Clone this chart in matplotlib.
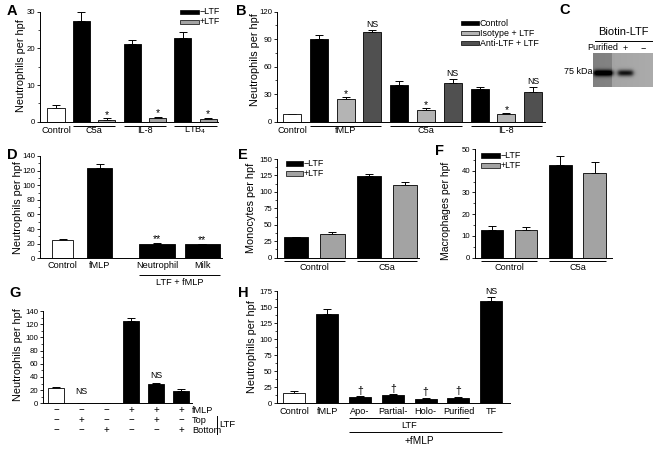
import matplotlib
matplotlib.use('Agg')
import matplotlib.pyplot as plt
import numpy as np
from matplotlib.patches import Rectangle
from matplotlib.ticker import MultipleLocator
import matplotlib.transforms as mtransforms

plt.rcParams['font.family'] = ['Liberation Sans', 'DejaVu Sans']

# ---------------- data ----------------
A_groups = ['C5a', 'IL-8', 'LTB$_4$']
A_control = [3.8]
A_control_err = [0.8]
A_minus = [27.5, 21.3, 22.8]
A_minus_err = [2.4, 1.0, 1.6]
A_plus = [0.6, 0.9, 0.7]
A_plus_err = [0.3, 0.5, 0.4]

B_groups = ['fMLP', 'C5a', 'IL-8']
B_control = [8.0]
B_control_err = [0.7]
B_ctrl = [90.2, 40.0, 35.3]
B_ctrl_err = [4.3, 4.2, 2.3]
B_iso = [25.0, 12.7, 8.0]
B_iso_err = [1.6, 1.9, 1.0]
B_anti = [97.5, 42.5, 32.7]
B_anti_err = [2.5, 4.0, 4.8]

D_labels = ['Control', 'fMLP', 'Neutrophil', 'Milk']
D_vals = [25.0, 123.0, 20.0, 19.0]
D_err = [1.2, 5.5, 0.8, 1.2]

E_groups = ['Control', 'C5a']
E_minus = [31.0, 124.6]
E_minus_err = [1.2, 2.5]
E_plus = [36.2, 110.5]
E_plus_err = [2.5, 4.2]

F_groups = ['Control', 'C5a']
F_minus = [12.8, 42.5]
F_minus_err = [1.8, 4.4]
F_plus = [12.6, 38.9]
F_plus_err = [1.7, 5.0]

G_vals = [22.7, 0.8, 0.5, 124.5, 29.3, 19.2]
G_err = [2.2, 0.2, 0.2, 4.5, 1.8, 2.4]
G_fmlp = ['\u2212', '\u2212', '\u2212', '+', '+', '+']
G_top = ['\u2212', '+', '\u2212', '\u2212', '+', '\u2212']
G_bottom = ['\u2212', '\u2212', '+', '\u2212', '\u2212', '+']

H_labels = ['Control', 'fMLP', 'Apo-', 'Partial-', 'Holo-', 'Purified', 'TF']
H_vals = [16.6, 138.7, 9.8, 12.4, 7.2, 8.7, 159.4]
H_err = [2.0, 7.5, 1.2, 1.5, 0.8, 1.3, 5.5]

C_lanes = ['Purified', '+', '\u2212']
C_band = [1.0, 0.85, 0.0]

# ---------------- styles ----------------
WHITE, BLACK, GRAY = '#ffffff', '#000000', '#a3a3a3'
ISO, ANTI = '#b4b4b4', '#505050'
TICK_FS, LAB_FS, YL_FS = 5.6, 6.6, 7.8

W, Hh = 664, 450
fig = plt.figure(figsize=(6.64, 4.5), dpi=100)
ov = fig.add_axes([0, 0, 1, 1], zorder=5)
ov.set_xlim(0, W)
ov.set_ylim(Hh, 0)
ov.axis('off')
ov.patch.set_alpha(0)


def add_ax(l, t, r, b):
    ax = fig.add_axes([l / W, 1 - b / Hh, (r - l) / W, (b - t) / Hh])
    ax.patch.set_alpha(0)
    for s in ['top', 'right']:
        ax.spines[s].set_visible(False)
    for s in ['left', 'bottom']:
        ax.spines[s].set_linewidth(0.7)
    ax.set_xticks([])
    ax.tick_params(axis='y', direction='out', length=2.5, width=0.6,
                   labelsize=TICK_FS, pad=1.0)
    ax.tick_params(axis='y', which='minor', direction='out', length=1.6, width=0.5)
    return ax


def bt(ax):
    # x in data coordinates, y in figure pixels (top-down)
    return mtransforms.blended_transform_factory(ax.transData, ov.transData)


def bars(ax, x, vals, errs, color, width):
    ax.errorbar(x, vals, yerr=[np.zeros(len(vals)), errs], fmt='none',
                ecolor='black', elinewidth=0.7, capsize=3.2, capthick=0.7, zorder=1)
    ax.bar(x, vals, width, color=color, edgecolor='black', linewidth=0.6, zorder=2)


def mark(ax, x, vals, errs, txt, fs=6.5, dy=1.0):
    for xi, v, e in zip(x, vals, errs):
        ax.annotate(txt, (xi, v + e), xytext=(0, dy), textcoords='offset points',
                    ha='center', va='bottom', fontsize=fs)


def hline(ax, x0, x1, ypx, lw=0.7):
    ax.plot([x0, x1], [ypx, ypx], transform=bt(ax), color='black', lw=lw,
            clip_on=False, solid_capstyle='butt')


def label(ax, x, ypx, txt, fs=LAB_FS):
    ax.text(x, ypx, txt, transform=bt(ax), ha='center', va='center', fontsize=fs)


def ylab(ax, txt, xpx, ycpx, fs=YL_FS):
    ov.text(xpx, ycpx, txt, rotation=90, ha='center', va='center', fontsize=fs)


def legend(x, y, dy, colors, labels, w=18, h=5):
    for i, (c, l) in enumerate(zip(colors, labels)):
        ov.add_patch(Rectangle((x, y + i * dy - h / 2), w, h, fc=c, ec='black', lw=0.5))
        ov.text(x + w + 1, y + i * dy, l, ha='left', va='center', fontsize=6.4)


def letter(x, y, t):
    ov.text(x, y, t, fontsize=10.5, fontweight='bold', ha='center', va='center')

# ---------------- Panel A ----------------
axA = add_ax(40, 11.7, 218, 121.7)
wA = 0.67
xc = np.array([0])
xm = np.array([1, 3, 5])
xp = xm + 1
bars(axA, xc, A_control, A_control_err, WHITE, wA)
bars(axA, xm, A_minus, A_minus_err, BLACK, wA)
bars(axA, xp, A_plus, A_plus_err, GRAY, wA)
mark(axA, xp, A_plus, A_plus_err, '*', fs=7.5, dy=-1)
axA.set_xlim(-0.63, 6.38)
axA.set_ylim(0, 30)
axA.yaxis.set_major_locator(MultipleLocator(10))
axA.yaxis.set_minor_locator(MultipleLocator(5))
label(axA, 0, 130.5, 'Control')
for a, b, g in zip(xm, xp, A_groups):
    hline(axA, a - wA / 2, b + wA / 2, 125.5)
    label(axA, (a + b) / 2, 130.5, g)
ylab(axA, 'Neutrophils per hpf', 21, 66)
legend(180, 12, 10, [BLACK, GRAY], ['\u2212LTF', '+LTF'], w=19, h=4.5)
letter(12, 11, 'A')

# ---------------- Panel B ----------------
axB = add_ax(277, 11.7, 545, 121.7)
wB = 0.67
gx = np.array([1, 4, 7])
bars(axB, [0], B_control, B_control_err, WHITE, wB)
bars(axB, gx, B_ctrl, B_ctrl_err, BLACK, wB)
bars(axB, gx + 1, B_iso, B_iso_err, ISO, wB)
bars(axB, gx + 2, B_anti, B_anti_err, ANTI, wB)
mark(axB, gx + 1, B_iso, B_iso_err, '*', fs=7.5, dy=-1)
mark(axB, gx + 2, B_anti, B_anti_err, 'NS', fs=6.3, dy=1)
axB.set_xlim(-0.56, 9.44)
axB.set_ylim(0, 120)
axB.yaxis.set_major_locator(MultipleLocator(30))
axB.yaxis.set_minor_locator(MultipleLocator(15))
label(axB, 0, 130.5, 'Control')
for a, g in zip(gx, B_groups):
    hline(axB, a - wB / 2, a + 2 + wB / 2, 125.5)
    label(axB, a + 1, 130.5, g)
ylab(axB, 'Neutrophils per hpf', 255, 60)
legend(461, 23, 10, [BLACK, ISO, ANTI], ['Control', 'Isotype + LTF', 'Anti-LTF + LTF'], w=18, h=4.5)
letter(241, 11, 'B')

# ---------------- Panel C (blot) ----------------
letter(565, 10, 'C')
axC = fig.add_axes([593 / W, 1 - 87 / Hh, 60 / W, 34 / Hh])
ny, nx = 34, 60
yy, xx = np.mgrid[0:ny, 0:nx]
img = np.where(xx < 19, 0.50, 0.63) + 0.04 * (xx / nx)
lane_c = [10, 32, 50]
lane_w = [9.5, 7.5, 7.0]
for cx, hw, inten in zip(lane_c, lane_w, C_band):
    band = inten * np.exp(-((yy - 19.5) / 3.2) ** 2) * \
        (1 / (1 + np.exp((np.abs(xx - cx) - hw) / 1.2)))
    img = img - 0.7 * band
img = np.clip(img, 0, 1)
axC.imshow(img, cmap='gray', vmin=0, vmax=1, aspect='auto', interpolation='bilinear')
axC.set_xticks([])
axC.set_yticks([])
for s in axC.spines.values():
    s.set_visible(False)
ov.text(623, 32, 'Biotin-LTF', ha='center', va='center', fontsize=8)
ov.plot([595, 652], [40.5, 40.5], color='black', lw=0.7)
for cx, t in zip(lane_c, C_lanes):
    ov.text(593 + cx, 48, t, ha='center', va='center', fontsize=6.5)
ov.text(592, 71.5, '75 kDa', ha='right', va='center', fontsize=6.5)

# ---------------- Panel D ----------------
axD = add_ax(40, 156, 222, 258.3)
D_pos = np.array([0, 1, 2.55, 3.78])
D_w = np.array([0.57, 0.68, 0.97, 0.95])
D_col = [WHITE, BLACK, BLACK, BLACK]
for xi, v, e, c, w in zip(D_pos, D_vals, D_err, D_col, D_w):
    bars(axD, [xi], [v], [e], c, w)
mark(axD, D_pos[2:], D_vals[2:], D_err[2:], '**', fs=7.5, dy=-1)
axD.set_xlim(-0.61, 4.31)
axD.set_ylim(0, 140)
axD.yaxis.set_major_locator(MultipleLocator(20))
axD.yaxis.set_minor_locator(MultipleLocator(10))
for xi, t in zip(D_pos, D_labels):
    label(axD, xi, 265, t)
hline(axD, D_pos[2] - D_w[2] / 2, D_pos[3] + D_w[3] / 2, 274.5)
label(axD, (D_pos[2] + D_pos[3]) / 2, 282.5, 'LTF + fMLP')
ylab(axD, 'Neutrophils per hpf', 18, 208)
letter(12, 155, 'D')

# ---------------- Panel E ----------------
axE = add_ax(277, 159, 419, 257.7)
wE = 0.67
ex = np.array([0, 2])
bars(axE, ex, E_minus, E_minus_err, BLACK, wE)
bars(axE, ex + 1, E_plus, E_plus_err, GRAY, wE)
axE.set_xlim(-0.53, 3.39)
axE.set_ylim(0, 150)
axE.yaxis.set_major_locator(MultipleLocator(25))
axE.yaxis.set_minor_locator(MultipleLocator(12.5))
for a, g in zip(ex, E_groups):
    hline(axE, a - wE / 2, a + 1 + wE / 2, 260.5)
    label(axE, a + 0.5, 268, g)
ylab(axE, 'Monocytes per hpf', 251, 208)
legend(286, 163, 10, [BLACK, GRAY], ['\u2212LTF', '+LTF'], w=17, h=5)
letter(243, 155, 'E')

# ---------------- Panel F ----------------
axF = add_ax(475, 149, 612, 257.7)
wF = 0.65
fx = np.array([0, 2])
bars(axF, fx, F_minus, F_minus_err, BLACK, wF)
bars(axF, fx + 1, F_plus, F_plus_err, GRAY, wF)
axF.set_xlim(-0.5, 3.51)
axF.set_ylim(0, 50)
axF.yaxis.set_major_locator(MultipleLocator(10))
axF.yaxis.set_minor_locator(MultipleLocator(5))
for a, g in zip(fx, F_groups):
    hline(axF, a - wF / 2, a + 1 + wF / 2, 260.5)
    label(axF, a + 0.5, 268, g)
ylab(axF, 'Macrophages per hpf', 446, 211, fs=7.5)
legend(481, 155, 10, [BLACK, GRAY], ['\u2212LTF', '+LTF'], w=19, h=5)
letter(440, 151, 'F')

# ---------------- Panel G ----------------
axG = add_ax(43, 311, 192, 403.3)
wG = 0.64
gxp = np.arange(len(G_vals))
G_col = [WHITE] + [BLACK] * 5
for xi, v, e, c in zip(gxp, G_vals, G_err, G_col):
    bars(axG, [xi], [v], [e], c, wG)
mark(axG, [1], [G_vals[1]], [G_err[1]], 'NS', fs=6.3, dy=5)
mark(axG, [4], [G_vals[4]], [G_err[4]], 'NS', fs=6.3, dy=2)
axG.set_xlim(-0.52, 5.44)
axG.set_ylim(0, 140)
axG.yaxis.set_major_locator(MultipleLocator(20))
axG.yaxis.set_minor_locator(MultipleLocator(10))
for row, ypx, name in zip([G_fmlp, G_top, G_bottom], [410.5, 420.5, 430.5],
                          ['fMLP', 'Top', 'Bottom']):
    for xi, s in zip(gxp, row):
        label(axG, xi, ypx, s, fs=7)
    ov.text(192, ypx, name, ha='left', va='center', fontsize=6.6)
ov.plot([217, 217], [416, 434], color='black', lw=0.7)
ov.text(219, 424.5, 'LTF', ha='left', va='center', fontsize=6.8)
ylab(axG, 'Neutrophils per hpf', 18, 355)
letter(15, 293, 'G')

# ---------------- Panel H ----------------
axH = add_ax(277, 291, 510, 403.3)
wH = 0.67
hx = np.arange(len(H_vals))
H_col = [WHITE] + [BLACK] * 6
for xi, v, e, c in zip(hx, H_vals, H_err, H_col):
    bars(axH, [xi], [v], [e], c, wH)
mark(axH, hx[2:6], H_vals[2:6], H_err[2:6], '\u2020', fs=7.5, dy=0.5)
mark(axH, [6], [H_vals[6]], [H_err[6]], 'NS', fs=6.3, dy=1)
axH.set_xlim(-0.53, 6.57)
axH.set_ylim(0, 175)
axH.yaxis.set_major_locator(MultipleLocator(25))
axH.yaxis.set_minor_locator(MultipleLocator(12.5))
for xi, t in zip(hx, H_labels):
    label(axH, xi, 411, t)
hline(axH, 2 - wH / 2, 5 + wH / 2, 418)
label(axH, 3.5, 426, 'LTF')
hline(axH, 2 - wH / 2, 6 + wH / 2, 431.5)
label(axH, 3.8, 441, '+fMLP', fs=7.2)
ylab(axH, 'Neutrophils per hpf', 252, 347)
letter(243, 293, 'H')

fig.savefig('out.png', dpi=100)
